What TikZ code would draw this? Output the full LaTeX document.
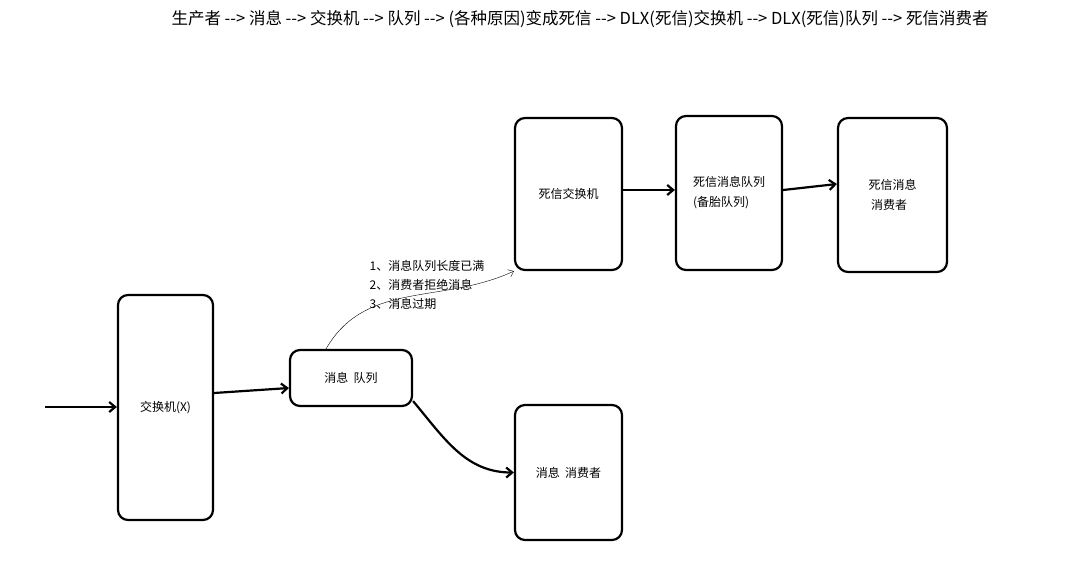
\documentclass[tikz,border=0pt]{standalone}
\usepackage{fontspec}
\setmainfont{Noto Sans CJK SC}
\usetikzlibrary{positioning,arrows.meta}
\newcommand{\togo}{-{}-{}>}
\begin{document}
\begin{tikzpicture}[x=1pt,y=-1pt, thick,
    box/.style = {draw, line width=2.2pt, rounded corners=10pt, font=\fontsize{12}{20}\selectfont},
    flow/.style = {-{Straight Barb[length=6pt,width=10pt]}, line width=2.2pt}
    ]
\useasboundingbox (0,0) rectangle (1081,581);
\node[font=\fontsize{16.5}{18}\selectfont] (title) at (580,19) {生产者 \togo{} 消息 \togo{} 交换机 \togo{} 队列 \togo{} (各种原因)变成死信 \togo{} DLX(死信)交换机 \togo{} DLX(死信)队列 \togo{} 死信消费者};

\node[box, minimum width=95pt, minimum height=225pt] (x) at (165.5,407.5) {交换机(X)};
\node[box, minimum width=122pt, minimum height=56pt] (q) at (351,378) {消息\ \ 队列};
\node[box, minimum width=107pt, minimum height=152pt] (dx) at (568.5,194) {死信交换机};
\node[box, minimum width=106pt, minimum height=154pt, align=left] (dq) at (729,193) {死信消息队列\\(备胎队列)};
\node[box, minimum width=109pt, minimum height=154pt, align=left] (dc) at (892.5,195) {死信消息\\\ 消费者};
\node[box, minimum width=107pt, minimum height=135pt] (c) at (568.5,472.5) {消息\ \ 消费者};

\coordinate (in) at (45,407);
\node[font=\fontsize{12}{14}\selectfont, align=left, anchor=north west] (why) at (366,257)
  {1、消息队列长度已满\\[5pt]2、消费者拒绝消息\\[5pt]3、消息过期};

\draw[flow] (in) -- (x.west |- in);
\draw[flow] (x.east |- 0,393) -- (q.west |- 0,388);
\draw[flow] (q.south east) ++(0,-6) to[out=-50,in=180] (c.west);
\draw[-{Straight Barb[length=5pt,width=8pt]}, thin] (q.north) ++(-25,0) to[out=60,in=205] (dx.south west);
\draw[flow] (dx.east |- 0,190) -- (dq.west |- 0,190);
\draw[flow] (dq.east |- 0,190) -- (dc.west |- 0,184);
\end{tikzpicture}
\end{document}
